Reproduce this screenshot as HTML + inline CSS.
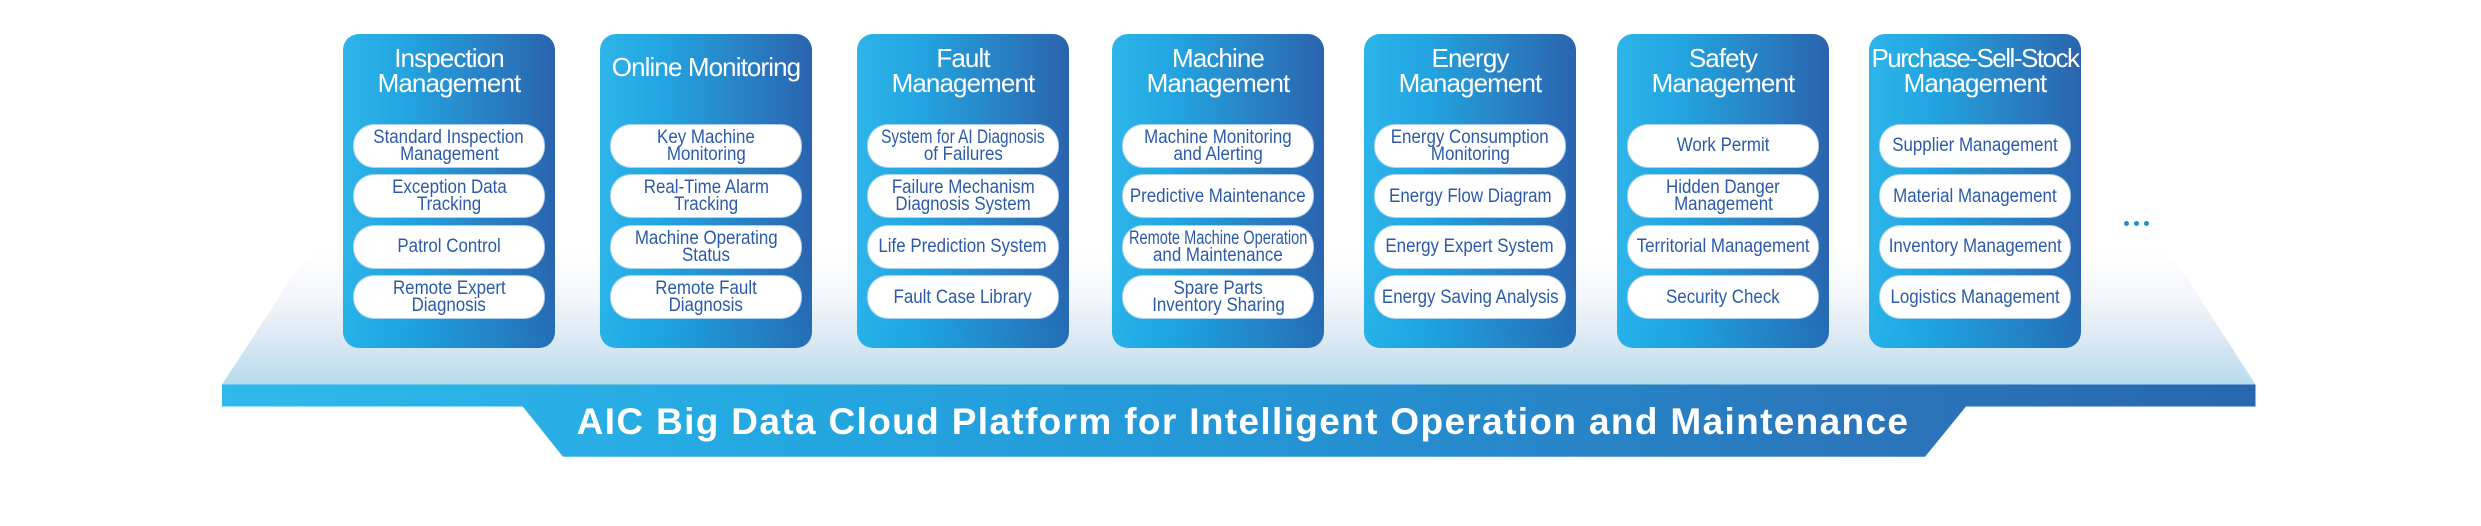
<!DOCTYPE html>
<html>
<head>
<meta charset="utf-8">
<style>
  html, body { margin:0; padding:0; }
  body { width:2481px; height:526px; background:#ffffff; position:relative; overflow:hidden;
         font-family:"Liberation Sans", Arial, sans-serif; }
  svg.bg { position:absolute; left:0; top:0; }
  .card { position:absolute; top:34px; width:212px; height:314px; border-radius:16px;
          background:linear-gradient(90deg, #2db5ea 0%, #22a4e0 30%, #2886c8 62%, #2a64ae 100%); }
  .card::after { content:""; position:absolute; left:0; top:0; right:0; bottom:0; border-radius:16px;
          background:linear-gradient(180deg, rgba(255,255,255,0) 70%, rgba(0,160,225,0.18) 100%); }
  .t { position:absolute; left:0; width:212px; text-align:center; color:#fff; font-size:26px;
       line-height:24.5px; letter-spacing:-0.9px; white-space:nowrap; z-index:2; }
  .t2 { top:12px; }
  .t1 { top:20.5px; }
  .p { position:absolute; left:11px; width:190px; height:42px; border-radius:20px; background:#fff;
       box-shadow:0 0 0 1px rgba(190,215,240,0.9); display:flex; flex-direction:column;
       justify-content:center; align-items:center; color:#2c5aa8; font-size:19px; line-height:17px; z-index:2; }
  .p span { display:block; white-space:nowrap; transform:scaleX(.89); }
  .p1 { top:90.5px; } .p2 { top:141px; } .p3 { top:191.5px; } .p4 { top:242px; }
  .dot { position:absolute; top:221px; width:5px; height:5px; border-radius:50%; background:#1e8fd4; }
  .big { position:absolute; left:0; width:2481px; top:399px; text-align:center; color:#fff;
         font-weight:bold; font-size:37px; letter-spacing:1.35px; line-height:46px; white-space:nowrap; padding-left:5px; box-sizing:border-box; }
</style>
</head>
<body>
<svg class="bg" width="2481" height="526" viewBox="0 0 2481 526">
  <defs>
    <linearGradient id="surf" gradientUnits="userSpaceOnUse" x1="0" y1="250" x2="0" y2="384.5">
      <stop offset="0" stop-color="#ffffff"/>
      <stop offset="0.35" stop-color="#f3f6fb"/>
      <stop offset="0.65" stop-color="#dde9f4"/>
      <stop offset="1" stop-color="#b8dbed"/>
    </linearGradient>
    <linearGradient id="band" gradientUnits="userSpaceOnUse" x1="222" y1="0" x2="2256" y2="0">
      <stop offset="0" stop-color="#2fb9ec"/>
      <stop offset="0.28" stop-color="#24a7e0"/>
      <stop offset="0.5" stop-color="#2496d6"/>
      <stop offset="0.78" stop-color="#2a78bd"/>
      <stop offset="1" stop-color="#2867b0"/>
    </linearGradient>
  </defs>
  <polygon points="222,384.5 2255.5,384.5 2169,250 310,250" fill="url(#surf)"/>
  <polygon points="222,384.5 2255.5,384.5 2255.5,406.5 1966,406.5 1925,456.7 563,456.7 522.7,406.5 222,406.5" fill="url(#band)"/>
</svg>

<div class="card" style="left:343px">
  <div class="t t2">Inspection<br>Management</div>
  <div class="p p1"><span>Standard Inspection</span><span>Management</span></div>
  <div class="p p2"><span>Exception Data</span><span>Tracking</span></div>
  <div class="p p3"><span>Patrol Control</span></div>
  <div class="p p4"><span>Remote Expert</span><span>Diagnosis</span></div>
</div>

<div class="card" style="left:600px">
  <div class="t t1">Online Monitoring</div>
  <div class="p p1"><span>Key Machine</span><span>Monitoring</span></div>
  <div class="p p2"><span>Real-Time Alarm</span><span>Tracking</span></div>
  <div class="p p3"><span>Machine Operating</span><span>Status</span></div>
  <div class="p p4"><span>Remote Fault</span><span>Diagnosis</span></div>
</div>

<div class="card" style="left:857px">
  <div class="t t2">Fault<br>Management</div>
  <div class="p p1"><span style="transform:scaleX(.81)">System for AI Diagnosis</span><span>of Failures</span></div>
  <div class="p p2"><span>Failure Mechanism</span><span>Diagnosis System</span></div>
  <div class="p p3"><span>Life Prediction System</span></div>
  <div class="p p4"><span>Fault Case Library</span></div>
</div>

<div class="card" style="left:1112px">
  <div class="t t2">Machine<br>Management</div>
  <div class="p p1"><span>Machine Monitoring</span><span>and Alerting</span></div>
  <div class="p p2"><span>Predictive Maintenance</span></div>
  <div class="p p3"><span style="transform:scaleX(.768)">Remote Machine Operation</span><span>and Maintenance</span></div>
  <div class="p p4"><span>Spare Parts</span><span>Inventory Sharing</span></div>
</div>

<div class="card" style="left:1364px">
  <div class="t t2">Energy<br>Management</div>
  <div class="p p1"><span>Energy Consumption</span><span>Monitoring</span></div>
  <div class="p p2"><span>Energy Flow Diagram</span></div>
  <div class="p p3"><span>Energy Expert System</span></div>
  <div class="p p4"><span>Energy Saving Analysis</span></div>
</div>

<div class="card" style="left:1617px">
  <div class="t t2">Safety<br>Management</div>
  <div class="p p1"><span>Work Permit</span></div>
  <div class="p p2"><span>Hidden Danger</span><span>Management</span></div>
  <div class="p p3"><span>Territorial Management</span></div>
  <div class="p p4"><span>Security Check</span></div>
</div>

<div class="card" style="left:1869px">
  <div class="t t2" style="letter-spacing:-1.5px">Purchase-Sell-Stock<br><span style="letter-spacing:-0.9px">Management</span></div>
  <div class="p p1"><span>Supplier Management</span></div>
  <div class="p p2"><span>Material Management</span></div>
  <div class="p p3"><span>Inventory Management</span></div>
  <div class="p p4"><span>Logistics Management</span></div>
</div>

<div class="dot" style="left:2123.5px"></div>
<div class="dot" style="left:2133.5px"></div>
<div class="dot" style="left:2143.5px"></div>

<div class="big">AIC Big Data Cloud Platform for Intelligent Operation and Maintenance</div>
</body>
</html>
